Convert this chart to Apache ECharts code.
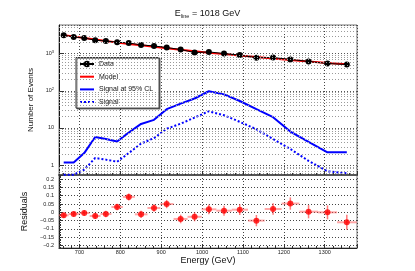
<!DOCTYPE html>
<html><head><meta charset="utf-8">
<script src="https://cdn.jsdelivr.net/npm/echarts@6/dist/echarts.min.js"></script>
<style>html,body{margin:0;padding:0;background:#fff}#c{width:415px;height:271px}</style>
</head><body><div id="c"></div>
<script>
// ---- data ----
const energy = [661.5,685.9,711.7,738.5,764.6,792.2,820.7,850.7,882.4,913.4,947.6,981.7,1016.6,1053.7,1092.2,1132.9,1173.7,1215.9,1260.5,1306.8,1354.1];
const dataCounts = [3124,2812,2642,2291,2193,2024,1940,1714,1610,1458,1289,1071,1111,1006,912,776,785,700,614,542,509];
const modelCounts = [3150,2877,2628,2400,2192,2002,1829,1670,1526,1393,1273,1162,1062,970,886,809,739,675,616,563,514];
const signal95 = [1.18,1.18,2.1,5.7,5.0,4.3,7.5,12.8,16.5,32,45,62,97,80,53,32,19.5,8,4.2,2.2,2.2];
const signal = [0.55,0.55,0.75,1.55,1.4,1.23,2.1,3.8,5.3,9.5,13,19,28,22,14.6,9.2,5,2.7,1.3,0.68,0.6];
const residuals = [-0.018,-0.01,-0.004,-0.022,-0.01,0.032,0.093,-0.012,0.026,0.05,-0.04,-0.027,0.018,0.01,0.016,-0.05,0.02,0.053,0.004,0.0,-0.06];
const residualErr = [0.015,0.016,0.017,0.018,0.019,0.02,0.021,0.022,0.023,0.025,0.026,0.027,0.029,0.03,0.032,0.034,0.035,0.037,0.04,0.042,0.045];
const legendNames = ['Data','Model','Signal at 95% CL','Signal'];

const font = 'Liberation Sans, Arial, Helvetica, sans-serif';
const pairs = arr => arr.map((v,i)=>[energy[i], v]);

// bin edges (geometric midpoints between bin centres)
const edges = energy.map((e,i)=>{
  const lo = i>0 ? Math.sqrt(energy[i-1]*e) : e*Math.sqrt(e/energy[1]);
  const hi = i<energy.length-1 ? Math.sqrt(energy[i+1]*e) : e*Math.sqrt(e/energy[i-1]);
  return [lo,hi];
});
const resData = residuals.map((r,i)=>[energy[i], r, residualErr[i], edges[i][0], edges[i][1]]);

// log-axis minor grid values (2..9 x 10^k)
const minorVals = [];
for (let k=-1;k<=3;k++) for (let m=2;m<=9;m++){const v=m*Math.pow(10,k); if (v>0.54 && v<5900) minorVals.push(v);}

const chart = echarts.init(document.getElementById('c'), null, {renderer:'canvas'});
const tickLabel = {fontFamily:font, fontSize:5.5, color:'#222'};
const hideSym = {opacity:0};
chart.setOption({
  animation:false,
  backgroundColor:'#fff',
  title:{
    text:'{e|E}{s|line}{e| = 1018 GeV}', left:'center', top:4,
    textStyle:{fontWeight:'normal', rich:{e:{fontFamily:font,fontSize:9,fontWeight:'normal',color:'#111'}, s:{fontFamily:font,fontSize:5.5,fontWeight:'normal',color:'#111',verticalAlign:'bottom',padding:[4,0,0,0]}}}
  },
  legend:{
    data:[{name:legendNames[0], itemStyle:{color:'#000', borderColor:'#000', borderWidth:0}},
          {name:legendNames[1], itemStyle:hideSym},{name:legendNames[2], itemStyle:hideSym},{name:legendNames[3], itemStyle:hideSym}],
    orient:'vertical', left:76, top:57.5,
    itemWidth:14, itemHeight:8, itemGap:4.7,
    padding:[2.5,6,2,3],
    backgroundColor:'#fff', borderColor:'#333', borderWidth:1,
    shadowColor:'rgba(0,0,0,0.45)', shadowBlur:0, shadowOffsetX:1, shadowOffsetY:1,
    textStyle:{fontFamily:font, fontSize:7, color:'#111', lineHeight:8, padding:[0,0,0,0]},
    selectedMode:false
  },
  grid:[
    {left:59, right:58, top:25, height:150, show:true, borderColor:'#777', borderWidth:1},
    {left:59, right:58, top:175, height:73, show:true, borderColor:'#777', borderWidth:1}
  ],
  xAxis:[
    {type:'value', gridIndex:0, min:650, max:1379, splitNumber:7,
     axisLabel:{show:false},
     axisLine:{onZero:false, lineStyle:{color:'#555', width:2}},
     axisTick:{inside:true, length:4, lineStyle:{color:'#333'}},
     minorTick:{show:true, splitNumber:5, length:2, lineStyle:{color:'#333'}},
     splitLine:{show:true, lineStyle:{color:'#444', type:[1,2], width:1}}},
    {type:'value', gridIndex:1, min:650, max:1379, splitNumber:7,
     axisLabel:{...tickLabel, margin:1.5, showMinLabel:false, showMaxLabel:false, formatter:v=>String(Math.round(v))},
     axisLine:{onZero:false, lineStyle:{color:'#222', width:1}},
     axisTick:{inside:true, length:4, lineStyle:{color:'#333'}},
     minorTick:{show:true, splitNumber:5, length:2, lineStyle:{color:'#333'}},
     splitLine:{show:true, lineStyle:{color:'#444', type:[1,2], width:1}},
     name:'Energy (GeV)', nameLocation:'middle', nameGap:6,
     nameTextStyle:{fontFamily:font, fontSize:9, color:'#111'}}
  ],
  yAxis:[
    {type:'log', gridIndex:0, min:0.54, max:5900, logBase:10,
     axisLabel:{...tickLabel, margin:5, showMinLabel:false, showMaxLabel:false,
       formatter:v=> v>=100 ? '10{sup|'+Math.round(Math.log10(v))+'}' : String(Math.round(v)),
       rich:{sup:{fontFamily:font, fontSize:4, color:'#222', verticalAlign:'top', padding:[0,0,3,0]}}},
     axisLine:{show:true, onZero:false, lineStyle:{color:'#111', width:1}},
     axisTick:{inside:true, length:5, lineStyle:{color:'#333'}},
     splitLine:{show:true, lineStyle:{color:'#555', type:[1,2], width:1}},
     name:'Number of Events', nameLocation:'middle', nameGap:21,
     nameTextStyle:{fontFamily:font, fontSize:8, color:'#111'}},
    {type:'value', gridIndex:1, min:-0.215, max:0.225, splitNumber:8,
     axisLabel:{...tickLabel, margin:5, showMinLabel:false, showMaxLabel:false,
       formatter:v=>{const r=Math.round(v*100)/100; return r===0?'0':(r<0?'−':'')+Math.abs(r);}},
     axisLine:{show:true, onZero:false, lineStyle:{color:'#111', width:1}},
     axisTick:{inside:true, length:4, lineStyle:{color:'#333'}},
     minorTick:{show:true, splitNumber:5, length:2, lineStyle:{color:'#333'}},
     splitLine:{show:true, lineStyle:{color:'#444', type:[1,2], width:1}},
     name:'Residuals', nameLocation:'middle', nameGap:22,
     nameTextStyle:{fontFamily:font, fontSize:9, color:'#111'}}
  ],
  series:[
    {type:'line', name:'_grid', xAxisIndex:0, yAxisIndex:0, data:[], silent:true,
     markLine:{silent:true, symbol:['none','none'], label:{show:false}, animation:false,
       lineStyle:{color:'#9a9a9a', type:[1,2], width:1},
       data:minorVals.map(v=>({yAxis:v}))}},
    {type:'line', name:'Model', xAxisIndex:0, yAxisIndex:0, data:pairs(modelCounts),
     showSymbol:false, symbol:'none', lineStyle:{color:'#ff0000', width:2}, itemStyle:{color:'#ff0000'}, z:3},
    {type:'line', name:'Data', xAxisIndex:0, yAxisIndex:0, data:pairs(dataCounts),
     symbol:'circle', symbolSize:6, lineStyle:{color:'#000', width:1}, itemStyle:{color:'#000'}, z:4},
    {type:'line', name:'Signal at 95% CL', xAxisIndex:0, yAxisIndex:0, data:pairs(signal95),
     symbol:'none', lineStyle:{color:'#0000ff', width:2}, itemStyle:{color:'#0000ff'}, z:3},
    {type:'line', name:'Signal', xAxisIndex:0, yAxisIndex:0, data:pairs(signal),
     symbol:'none', lineStyle:{color:'#0000ff', width:2, type:[2,2]}, itemStyle:{color:'#0000ff'}, z:3},
    {type:'custom', name:'_err', xAxisIndex:1, yAxisIndex:1, data:resData, silent:true, z:3,
     renderItem:(params, api)=>{
       const c = api.coord([api.value(0), api.value(1)]);
       const lo = api.coord([api.value(3), api.value(1)]);
       const hi = api.coord([api.value(4), api.value(1)]);
       const up = api.coord([api.value(0), api.value(1)+api.value(2)]);
       const dn = api.coord([api.value(0), api.value(1)-api.value(2)]);
       return {type:'group', children:[
         {type:'line', shape:{x1:lo[0],y1:c[1],x2:hi[0],y2:c[1]}, style:{stroke:'rgba(255,80,80,0.5)', lineWidth:2}},
         {type:'line', shape:{x1:c[0],y1:up[1],x2:c[0],y2:dn[1]}, style:{stroke:'rgba(255,50,50,0.65)', lineWidth:1.5}}
       ]};
     }},
    {type:'scatter', name:'_res', xAxisIndex:1, yAxisIndex:1, data:residuals.map((r,i)=>[energy[i], r]),
     symbol:'circle', symbolSize:6, itemStyle:{color:'#ff0000'}, z:4}
  ]
});
</script></body></html>
